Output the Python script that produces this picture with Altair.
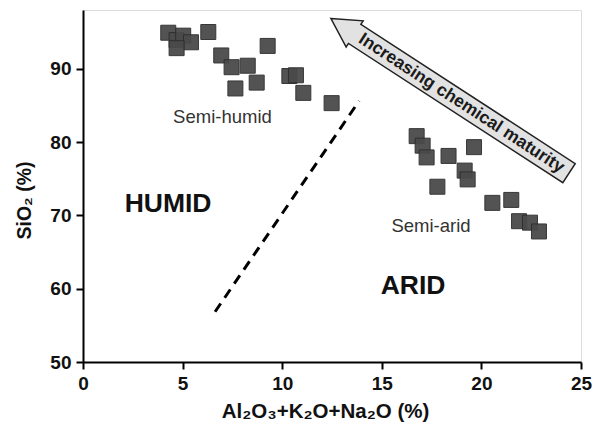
import altair as alt
import pandas as pd

# Semi-humid samples
semi_humid_x = [4.28, 4.70, 5.03, 5.42, 4.70, 6.29, 6.94, 7.46, 8.27, 9.27, 7.65, 8.72, 10.36, 10.69, 11.06, 12.48]
semi_humid_y = [94.9, 93.9, 94.5, 93.6, 92.8, 95.0, 91.8, 90.2, 90.4, 93.1, 87.3, 88.1, 89.0, 89.1, 86.7, 85.3]
# Semi-arid samples
semi_arid_x = [16.75, 17.05, 17.25, 18.35, 19.63, 19.16, 19.31, 17.79, 20.55, 21.50, 21.89, 22.44, 22.89]
semi_arid_y = [80.8, 79.5, 77.9, 78.1, 79.3, 76.1, 74.9, 73.9, 71.7, 72.1, 69.2, 69.0, 67.8]

# Boundary (dashed) line
boundary_x = [6.63, 13.86]
boundary_y = [56.85, 85.6]

# Text labels
label_text = ["Semi-humid", "Semi-arid"]
label_x = [7.0, 17.47]
label_y = [83.4, 68.6]
region_text = ["HUMID", "ARID"]
region_x = [4.27, 16.57]
region_y = [71.5, 60.3]

# Arrow annotation
arrow_x = [18.42]
arrow_y = [86.3]
arrow_text = ["Increasing chemical maturity"]
arrow_text_x = [19.0]
arrow_text_y = [85.27]

x_ticks = [0, 5, 10, 15, 20, 25]
y_ticks = [50, 60, 70, 80, 90]

FONT = "Liberation Sans"

pts = pd.DataFrame({
    "x": semi_humid_x + semi_arid_x,
    "y": semi_humid_y + semi_arid_y,
})
line_df = pd.DataFrame({"x": boundary_x, "y": boundary_y})
lab_df = pd.DataFrame({"t": label_text, "x": label_x, "y": label_y})
reg_df = pd.DataFrame({"t": region_text, "x": region_x, "y": region_y})
arr_df = pd.DataFrame({"x": arrow_x, "y": arrow_y})
arrt_df = pd.DataFrame({"t": arrow_text, "x": arrow_text_x, "y": arrow_text_y})

xs = alt.Scale(domain=[0, 25], nice=False, zero=False)
ys = alt.Scale(domain=[50, 98], nice=False, zero=False)

X = alt.X("x:Q", scale=xs, axis=alt.Axis(
    values=x_ticks, title="Al\u2082O\u2083+K\u2082O+Na\u2082O (%)", grid=False,
    labelFontSize=19, labelFontWeight="bold", labelFont=FONT, labelColor="#111",
    titleFontSize=20.5, titleFontWeight="bold", titleFont=FONT, titleColor="#111",
    tickSize=7, tickWidth=2, tickColor="black", domainColor="black", domainWidth=2,
    labelPadding=5, titleX=242, titleY=39, titleBaseline="top", labelFlush=False))
Y = alt.Y("y:Q", scale=ys, axis=alt.Axis(
    values=y_ticks, title="SiO\u2082 (%)", grid=False,
    labelFontSize=19, labelFontWeight="bold", labelFont=FONT, labelColor="#111",
    titleFontSize=19.5, titleFontWeight="bold", titleFont=FONT, titleColor="#111",
    tickSize=7, tickWidth=2, tickColor="black", domainColor="black", domainWidth=2,
    labelPadding=5, titleX=-49, titleY=190, labelFlush=False))

points = alt.Chart(pts).mark_point(
    shape="square", size=225, filled=True, fill="#4a4a4a", stroke="#2e2e2e",
    strokeWidth=1, opacity=0.95
).encode(x=X, y=Y)

boundary = alt.Chart(line_df).mark_line(
    color="black", strokeWidth=3, strokeDash=[10, 7]
).encode(x=alt.X("x:Q", scale=xs), y=alt.Y("y:Q", scale=ys))

arrow_path = ("M -1 0 L -0.8 -0.11 L -0.8 -0.08 L 1 -0.08 L 1 0.08 "
              "L -0.8 0.08 L -0.8 0.11 Z")
arrow = alt.Chart(arr_df).mark_point(
    shape=arrow_path, size=284 * 284, angle=33, filled=True,
    fill="#e2e2e2", stroke="#222", strokeWidth=1.5, opacity=1
).encode(x=alt.X("x:Q", scale=xs), y=alt.Y("y:Q", scale=ys))

arrow_label = alt.Chart(arrt_df).mark_text(
    angle=33, font=FONT, fontSize=17.5, fontWeight="bold", color="#1a1a1a",
    align="center", baseline="middle"
).encode(x=alt.X("x:Q", scale=xs), y=alt.Y("y:Q", scale=ys), text="t:N")

labels = alt.Chart(lab_df).mark_text(
    font=FONT, fontSize=18.5, color="#333", align="center", baseline="middle"
).encode(x=alt.X("x:Q", scale=xs), y=alt.Y("y:Q", scale=ys), text="t:N")

regions = alt.Chart(reg_df).mark_text(
    font=FONT, fontSize=26.5, fontWeight="bold", color="#111", align="center", baseline="middle"
).encode(x=alt.X("x:Q", scale=xs), y=alt.Y("y:Q", scale=ys), text="t:N")

chart = alt.layer(boundary, arrow, arrow_label, points, labels, regions).properties(
    width=498, height=352,
    autosize=alt.AutoSizeParams(type="none"),
    padding={"left": 75, "top": 2, "right": 14, "bottom": 64},
).configure_view(stroke="black", strokeWidth=2.5).configure(background="white")

chart.save("out.html", embed_options={"renderer": "svg", "actions": False})
